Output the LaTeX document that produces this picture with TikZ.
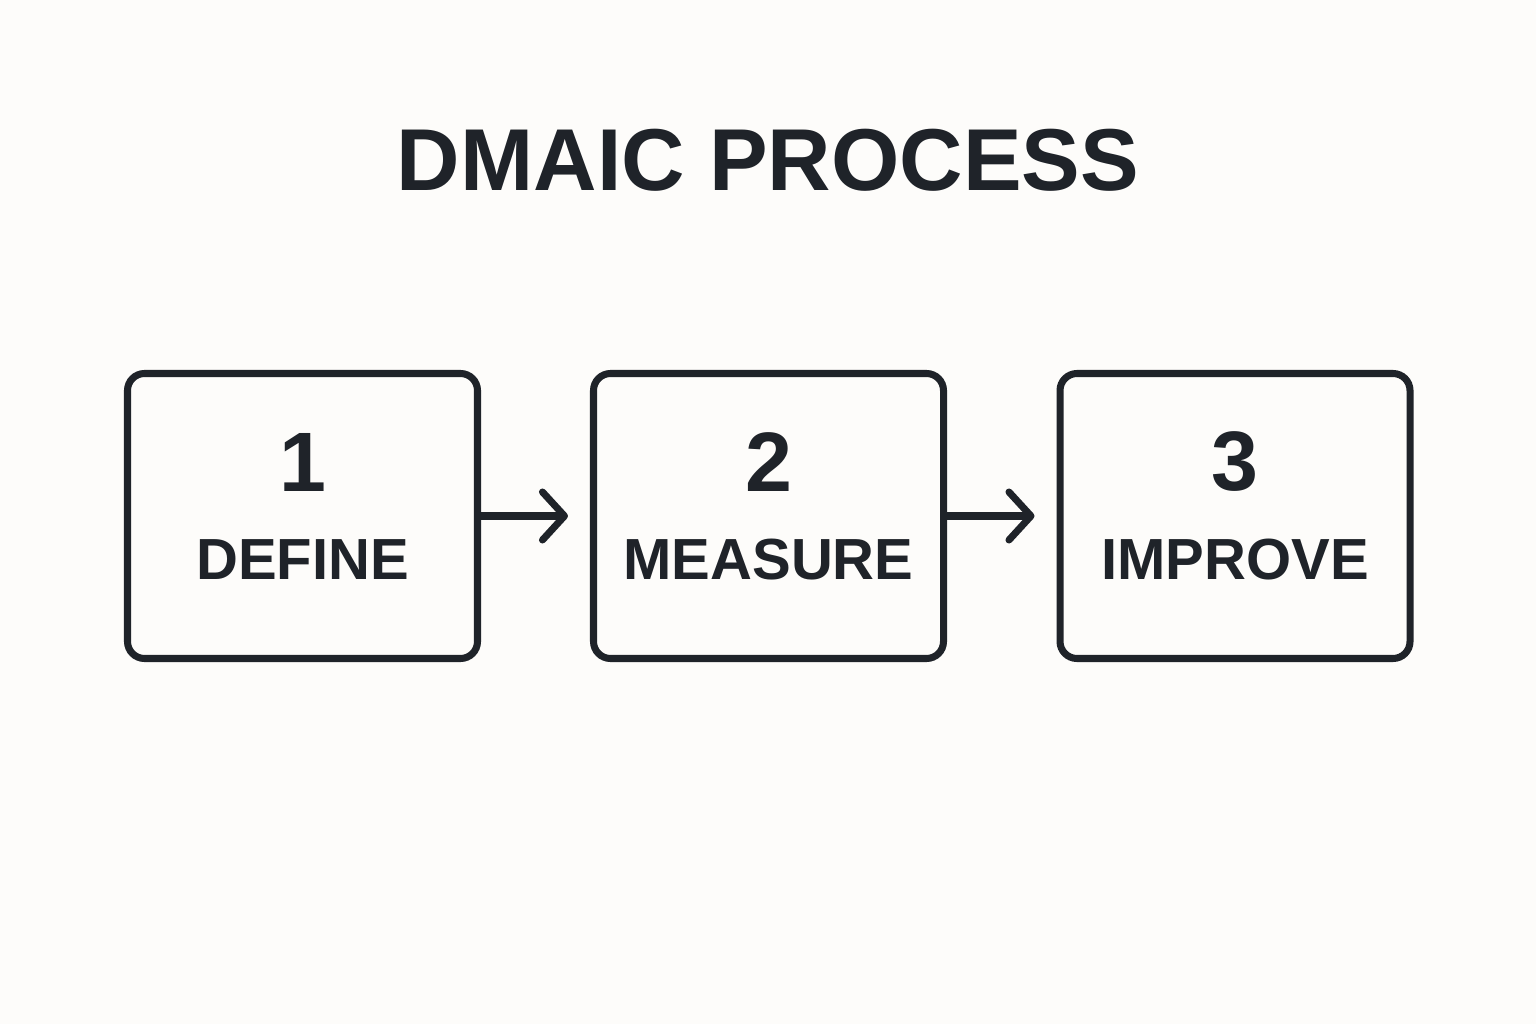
\documentclass[tikz,border=0pt]{standalone}
\usepackage{fontspec}
\setmainfont{Liberation Sans}
\usetikzlibrary{positioning,arrows.meta}
\definecolor{ink}{HTML}{1F2329}
\definecolor{paper}{HTML}{FDFCFA}
\begin{document}
\begin{tikzpicture}[
        phase/.style={draw=ink, line width=2pt, rounded corners=0.17cm,
            minimum width=3.5cm, minimum height=2.85cm, text=ink},
        num/.style={text=ink, font=\bfseries\fontsize{24}{28}\selectfont},
        lbl/.style={text=ink, font=\bfseries\fontsize{16.5}{20}\selectfont},
        flow/.style={draw=ink, line width=2pt, line cap=round,
            -{Straight Barb[length=2.2mm,width=4.8mm,line width=2pt,round]}, shorten >=0.22cm}
        ]
        \fill[paper] (0,0) rectangle (15.36,10.24);
        \useasboundingbox (0,0) rectangle (15.36,10.24);
        \node[text=ink, font=\bfseries\fontsize{25}{30}\selectfont] (title) at (7.68,8.64) {DMAIC PROCESS};
        \node[phase] (define) at (3.025,5.08) {};
        \node[phase] (measure) at (7.685,5.08) {};
        \node[phase] (improve) at (12.35,5.08) {};
        \foreach \b/\n/\t in {define/1/DEFINE, measure/2/MEASURE, improve/3/IMPROVE}{
            \node[num] (\b-num) at ([yshift=0.54cm]\b.center) {\n};
            \node[lbl] (\b-lbl) at ([yshift=-0.44cm]\b.center) {\t};
        }
        \draw[flow] (define.east) -- (measure.west);
        \draw[flow] (measure.east) -- (improve.west);
    \end{tikzpicture}
\end{document}
